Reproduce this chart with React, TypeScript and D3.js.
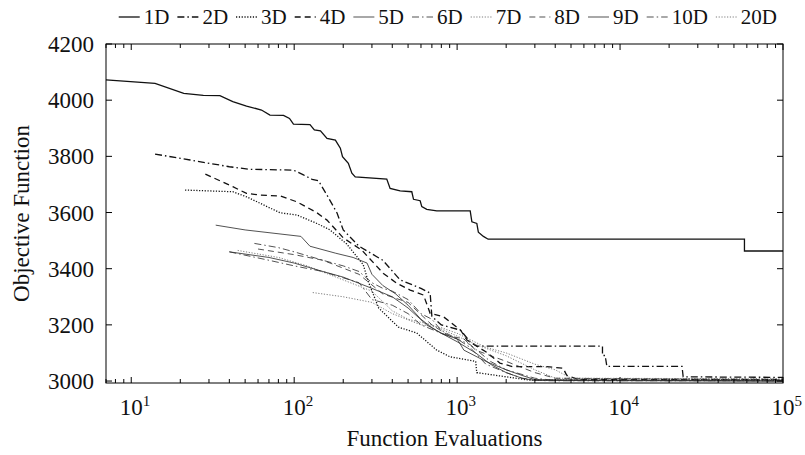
import React from "react";
import * as d3 from "d3";

const seriesNames = ["1D", "2D", "3D", "4D", "5D", "6D", "7D", "8D", "9D", "10D", "20D"];

const s1D: [number, number][] = [[7, 4072], [14, 4060], [21, 4024], [27.7, 4017], [35, 4016], [42, 3995], [51, 3979], [63, 3965], [71, 3947], [86, 3946], [93.6, 3935], [99, 3915], [125, 3913], [133, 3894], [145, 3891], [159, 3864], [179, 3858], [192, 3829], [198, 3799], [215, 3775], [226, 3740], [237, 3727], [370, 3719], [388, 3686], [447, 3677], [527, 3674], [540, 3647], [593, 3642], [607, 3621], [651, 3611], [750, 3606], [1203, 3606], [1232, 3567], [1321, 3561], [1350, 3530], [1450, 3515], [1550, 3505], [58000, 3505], [58000, 3463], [100000, 3463]];
const s2D: [number, number][] = [[14, 3808], [23, 3787], [40, 3763], [53, 3754], [99, 3751], [114, 3734], [129, 3718], [141, 3713], [159, 3662], [183, 3599], [200, 3538], [250, 3480], [350, 3430], [447, 3360], [600, 3330], [683, 3313], [700, 3230], [800, 3200], [1050, 3181], [1200, 3140], [1320, 3124], [7800, 3124], [7800, 3091], [8100, 3091], [8300, 3052], [24000, 3052], [24400, 3015], [100000, 3013]];
const s3D: [number, number][] = [[21.4, 3680], [42, 3674], [51, 3656], [82, 3599], [104, 3591], [138, 3561], [166, 3538], [210, 3488], [265, 3415], [285, 3354], [330, 3260], [436, 3192], [565, 3171], [750, 3110], [906, 3086], [1300, 3070], [1320, 3030], [2000, 3015], [2800, 3003], [100000, 3002]];
const s4D: [number, number][] = [[28.5, 3737], [42, 3692], [51, 3668], [62, 3662], [82, 3659], [104, 3638], [138, 3599], [159, 3573], [200, 3510], [260, 3466], [353, 3383], [427, 3348], [515, 3324], [622, 3306], [683, 3241], [824, 3229], [1050, 3181], [1150, 3146], [1500, 3104], [1830, 3064], [2200, 3051], [3540, 3051], [4470, 3046], [4700, 3021], [5500, 3006], [100000, 3006]];
const s5D: [number, number][] = [[33, 3555], [50, 3538], [110, 3515], [125, 3480], [180, 3455], [230, 3440], [280, 3420], [300, 3380], [350, 3340], [420, 3310], [500, 3270], [600, 3220], [700, 3190], [800, 3170], [1000, 3140], [1300, 3100], [1600, 3060], [2000, 3030], [2500, 3010], [3000, 3002], [100000, 3000]];
const s6D: [number, number][] = [[57, 3490], [80, 3475], [100, 3460], [150, 3430], [200, 3410], [250, 3390], [300, 3350], [350, 3330], [400, 3320], [500, 3290], [600, 3240], [700, 3220], [800, 3180], [1000, 3150], [1200, 3120], [1500, 3060], [2000, 3030], [2500, 3010], [3500, 3001], [100000, 3001]];
const s7D: [number, number][] = [[45, 3465], [80, 3440], [120, 3410], [200, 3360], [300, 3320], [400, 3250], [500, 3220], [700, 3200], [1000, 3160], [1300, 3130], [2000, 3090], [3000, 3040], [4000, 3010], [100000, 3005]];
const s8D: [number, number][] = [[60, 3470], [100, 3450], [150, 3430], [250, 3380], [350, 3310], [500, 3280], [700, 3200], [900, 3160], [1100, 3150], [1300, 3110], [2000, 3070], [3000, 3030], [4000, 3010], [100000, 3004]];
const s9D: [number, number][] = [[40, 3460], [70, 3440], [100, 3420], [150, 3390], [200, 3370], [300, 3330], [400, 3300], [500, 3260], [650, 3200], [800, 3170], [1000, 3150], [1100, 3110], [1500, 3070], [2000, 3040], [2500, 3020], [3000, 3005], [100000, 3000]];
const s10D: [number, number][] = [[40, 3460], [70, 3430], [100, 3410], [150, 3390], [250, 3350], [300, 3290], [400, 3270], [500, 3240], [600, 3200], [800, 3170], [1000, 3150], [1200, 3130], [1600, 3070], [2000, 3040], [3000, 3010], [4000, 3002], [100000, 3001]];
const s20D: [number, number][] = [[130, 3315], [200, 3300], [300, 3280], [400, 3240], [600, 3200], [800, 3190], [1000, 3170], [1500, 3120], [2000, 3100], [3000, 3060], [4000, 3040], [5000, 3010], [100000, 3008]];

const seriesData = [s1D, s2D, s3D, s4D, s5D, s6D, s7D, s8D, s9D, s10D, s20D];

const yTicks = [3000, 3200, 3400, 3600, 3800, 4000, 4200];
const xTickExps = [1, 2, 3, 4, 5];

const dashes = ["none", "7,3,1.5,3", "1.2,1.6", "6,4"];
const styleFor = (i: number) => {
  const dash = i === 10 ? dashes[2] : dashes[i % 4];
  const thick = i < 4;
  const color = i < 4 ? "#111" : i === 6 || i === 10 ? "#666" : "#333";
  return { dash, width: thick ? 1.3 : 0.85, color };
};

const W = 805, H = 455;
const L = 106, R = 783, T = 44, B = 383;
const FONT = "Liberation Serif, DejaVu Serif, Times New Roman, serif";

export default function App() {
  const x = d3.scaleLog().domain([7, 100000]).range([L, R]);
  const y = d3.scaleLinear().domain([2993, 4200]).range([B, T]);
  const line = d3.line<[number, number]>().x((d) => x(d[0])).y((d) => y(d[1]));

  const minor: number[] = [];
  for (let e = 0; e <= 4; e++) for (let k = 1; k <= 9; k++) {
    const v = k * Math.pow(10, e);
    if (v >= 7 && v <= 100000) minor.push(v);
  }
  minor.push(100000);

  const legendFont = 21;
  const sample = 21;
  const items: { x0: number; name: string; i: number }[] = [];
  let cx = 0;
  seriesNames.forEach((n, i) => {
    items.push({ x0: cx, name: n, i });
    const tw = (n.length - 1) * 0.5 * legendFont + 0.722 * legendFont;
    cx += sample + 4 + tw + 8;
  });
  const legendWidth = cx - 8;
  const legendStart = 777 - legendWidth;

  const tickFont = 23;

  return (
    <svg width={W} height={H} style={{ position: "absolute", left: 0, top: 0, background: "#fff", fontFamily: FONT }}>
      <rect x={0} y={0} width={W} height={H} fill="#fff" />
      <g>
        {seriesData.map((s, i) => {
          const st = styleFor(i);
          return (
            <path key={i} d={line(s) || ""} fill="none" stroke={st.color} strokeWidth={st.width}
              strokeDasharray={st.dash === "none" ? undefined : st.dash} />
          );
        })}
      </g>
      <rect x={L} y={T} width={R - L} height={B - T} fill="none" stroke="#000" strokeWidth={1} />
      {minor.map((v, i) => {
        const isMajor = Math.abs(Math.log10(v) - Math.round(Math.log10(v))) < 1e-9;
        const len = isMajor ? 6 : 4;
        const px = x(v);
        return (
          <g key={i}>
            <line x1={px} x2={px} y1={B} y2={B - len} stroke="#000" strokeWidth={1} />
            <line x1={px} x2={px} y1={T} y2={T + len} stroke="#000" strokeWidth={1} />
          </g>
        );
      })}
      {xTickExps.map((e) => (
        <text key={e} x={x(Math.pow(10, e)) - tickFont * 0.5} y={415} fontSize={tickFont} fill="#111">
          10<tspan dy={-9} fontSize={15}>{e}</tspan>
        </text>
      ))}
      {yTicks.map((t) => (
        <g key={t}>
          <line x1={L} x2={L + 6} y1={y(t)} y2={y(t)} stroke="#000" />
          <line x1={R} x2={R - 6} y1={y(t)} y2={y(t)} stroke="#000" />
          <text x={94} y={y(t) + 8} fontSize={tickFont} textAnchor="end" fill="#111">{t}</text>
        </g>
      ))}
      <text x={(L + R) / 2} y={446} fontSize={tickFont} textAnchor="middle" fill="#111">Function Evaluations</text>
      <text transform={`translate(29,${(T + B) / 2}) rotate(-90)`} fontSize={tickFont} textAnchor="middle" fill="#111">Objective Function</text>
      {items.map((it) => {
        const st = styleFor(it.i);
        const lx = legendStart + it.x0;
        return (
          <g key={it.name}>
            <line x1={lx} x2={lx + sample} y1={17} y2={17} stroke={st.color} strokeWidth={st.width}
              strokeDasharray={st.dash === "none" ? undefined : st.dash} />
            <text x={lx + sample + 4} y={24} fontSize={legendFont} fill="#111">{it.name}</text>
          </g>
        );
      })}
    </svg>
  );
}
